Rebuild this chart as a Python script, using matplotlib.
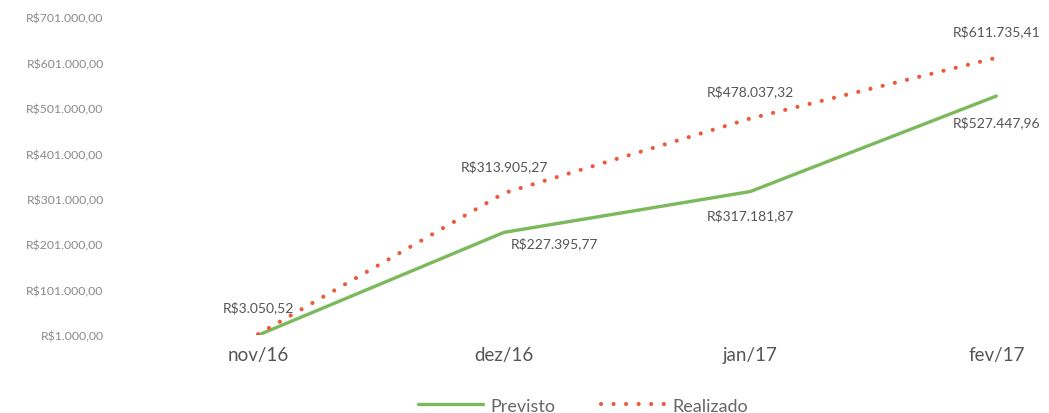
import matplotlib.pyplot as plt
from matplotlib.ticker import FuncFormatter

plt.rcParams['font.family'] = ['Lato', 'DejaVu Sans']

meses = ['nov/16', 'dez/16', 'jan/17', 'fev/17']
previsto = [1000.00, 227395.77, 317181.87, 527447.96]
realizado = [3050.52, 313905.27, 478037.32, 611735.41]
y_ticks = [1000 + 100000 * i for i in range(8)]


def brl(v):
    s = '{:,.2f}'.format(v)
    s = s.replace(',', 'X').replace('.', ',').replace('X', '.')
    return 'R$' + s


fig = plt.figure(figsize=(10.49, 4.14), dpi=100)
ax = fig.add_axes([0.12, 0.188, 0.872, 0.768])

x = list(range(len(meses)))
ax.plot(x, previsto, color='#7cb85c', linewidth=2.4, label='Previsto', solid_capstyle='round')
ax.plot(x, realizado, color='#ec5a3c', linewidth=3.0, linestyle=(0, (0.01, 3.0)),
        dash_capstyle='round', label='Realizado')

# rótulos de dados
for i, v in enumerate(realizado):
    ax.annotate(brl(v), (i, v), xytext=(0, 15), textcoords='offset points',
                ha='center', va='bottom', fontsize=10, color='#555555')
prev_off = [None, (36, -3), (0, -12), (0, -14)]
for i, v in enumerate(previsto):
    if prev_off[i] is None:
        continue
    ax.annotate(brl(v), (i, v), xytext=prev_off[i], textcoords='offset points',
                ha='center', va='top', fontsize=10, color='#555555')

ax.set_xlim(-0.537, 3.18)
ax.set_ylim(1000, 701000)
ax.set_xticks(x)
ax.set_xticklabels(meses, fontsize=13.5, color='#555555')
ax.set_yticks(y_ticks)
ax.yaxis.set_major_formatter(FuncFormatter(lambda v, p: brl(v)))
ax.tick_params(axis='y', labelsize=8.8, labelcolor='#8a8a8a', length=0, pad=16)
ax.tick_params(axis='x', length=0, pad=8)
for s in ax.spines.values():
    s.set_visible(False)

ax.legend(loc='upper center', bbox_to_anchor=(0.5, -0.145), ncol=2, frameon=False,
          fontsize=13, labelcolor='#666666', handlelength=3.6, handletextpad=0.4,
          columnspacing=2.5)

plt.savefig('out.png', dpi=100)
